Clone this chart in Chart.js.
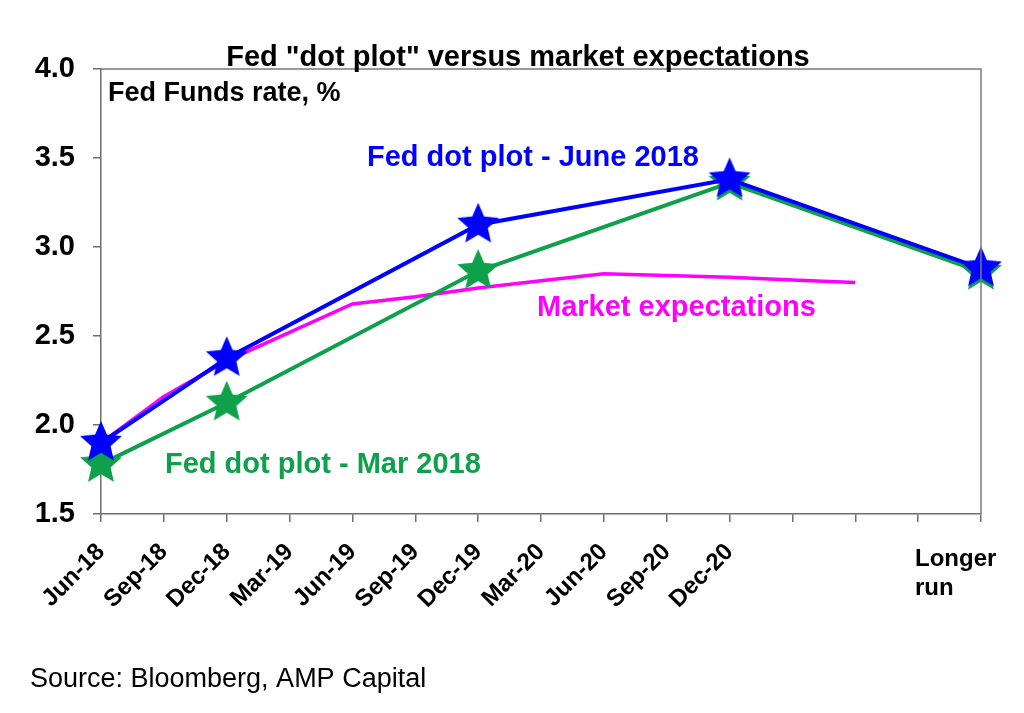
<!DOCTYPE html>
<html>
<head>
  <title>Fed dot plot versus market expectations</title>
  <script src="https://cdn.jsdelivr.net/npm/chart.js"></script>
  <style>
    body { margin: 0; background: #fff; }
    #wrap { width: 1024px; height: 713px; position: relative; }
  </style>
</head>
<body>
  <div id="wrap"><canvas id="fedChart"></canvas></div>

  <script>
    // --- Data ---
    const quarters = ['Jun-18', 'Sep-18', 'Dec-18', 'Mar-19', 'Jun-19', 'Sep-19', 'Dec-19',
                      'Mar-20', 'Jun-20', 'Sep-20', 'Dec-20', '', '', '', 'Longer run'];
    const dotsJune = [1.9, null, 2.375, null, null, null, 3.125, null, null, null, 3.38, null, null, null, 2.88];
    const dotsMar  = [1.78, null, 2.125, null, null, null, 2.865, null, null, null, 3.36, null, null, null, 2.86];
    const market   = [1.9, 2.16, 2.36, 2.52, 2.68, 2.72, 2.77, 2.81, 2.85, 2.84, 2.83, 2.815, 2.8, null, null];
    const yTicks   = [1.5, 2.0, 2.5, 3.0, 3.5, 4.0];

    const BLUE = '#0000ff', GREEN = '#0ea04a', PINK = '#ff00ff';
    const FONT = '"Liberation Sans", Arial, sans-serif';

    // filled five point star used as the marker
    function makeStar(color, r) {
      const c = document.createElement('canvas');
      c.width = c.height = r * 2 + 2;
      const g = c.getContext('2d');
      g.fillStyle = color;
      g.beginPath();
      for (let i = 0; i < 10; i++) {
        const rad = i % 2 === 0 ? r : r * 0.46;
        const a = -Math.PI / 2 + i * Math.PI / 5;
        const px = r + 1 + rad * Math.cos(a), py = r + 1 + rad * Math.sin(a);
        i === 0 ? g.moveTo(px, py) : g.lineTo(px, py);
      }
      g.closePath();
      g.fill();
      return c;
    }

    // --- Texts, frame and the "Longer run" label ---
    const textPlugin = {
      id: 'texts',
      afterDraw(chart) {
        const { ctx, chartArea: a, scales } = chart;
        ctx.save();
        // frame on top and right
        ctx.strokeStyle = '#7a7a7a';
        ctx.lineWidth = 1.5;
        ctx.beginPath();
        ctx.moveTo(a.left, a.top); ctx.lineTo(a.right, a.top); ctx.lineTo(a.right, a.bottom);
        ctx.stroke();

        ctx.textBaseline = 'alphabetic';
        ctx.fillStyle = '#000';
        ctx.textAlign = 'center';
        ctx.font = 'bold 29px ' + FONT;
        ctx.fillText('Fed "dot plot" versus market expectations', 518, 66);

        ctx.textAlign = 'left';
        ctx.font = 'bold 27px ' + FONT;
        ctx.fillText('Fed Funds rate, %', 108, 101);

        ctx.font = 'bold 29px ' + FONT;
        ctx.fillStyle = BLUE;  ctx.fillText('Fed dot plot - June 2018', 367, 166);
        ctx.fillStyle = PINK;  ctx.fillText('Market expectations', 537, 316);
        ctx.fillStyle = GREEN; ctx.fillText('Fed dot plot - Mar 2018', 165, 473);

        // last category label, set flat as in the original
        const xl = scales.x.getPixelForValue(quarters.length - 1) - 66;
        ctx.fillStyle = '#000';
        ctx.font = 'bold 24px ' + FONT;
        ctx.fillText('Longer', xl, 566);
        ctx.fillText('run', xl, 595);

        ctx.font = '27px ' + FONT;
        ctx.fillText('Source: Bloomberg, AMP Capital', 30, 687);
        ctx.restore();
      }
    };

    // --- Chart ---
    const ctx = document.getElementById('fedChart').getContext('2d');
    const fedChart = new Chart(ctx, {
      type: 'line',
      data: {
        labels: quarters,
        datasets: [
          {
            label: 'Fed dot plot - June 2018',
            data: dotsJune,
            borderColor: BLUE,
            borderWidth: 4,
            spanGaps: true,
            pointStyle: makeStar(BLUE, 22),
            pointRadius: 22
          },
          {
            label: 'Fed dot plot - Mar 2018',
            data: dotsMar,
            borderColor: GREEN,
            borderWidth: 4,
            spanGaps: true,
            pointStyle: makeStar(GREEN, 22),
            pointRadius: 22
          },
          {
            label: 'Market expectations',
            data: market,
            borderColor: PINK,
            borderWidth: 3.5,
            pointRadius: 0
          }
        ]
      },
      options: {
        responsive: true,
        maintainAspectRatio: false,
        animation: false,
        layout: { padding: { top: 69, right: 43, left: 0, bottom: 0 } },
        plugins: {
          legend: { display: false },
          title: { display: false },
          tooltip: { enabled: false }
        },
        scales: {
          x: {
            offset: false,
            border: { color: '#6e6e6e', width: 1.5 },
            grid: { drawOnChartArea: false, tickLength: 8, color: '#6e6e6e', lineWidth: 1.5 },
            ticks: {
              autoSkip: false,
              minRotation: 45,
              maxRotation: 45,
              padding: 16,
              color: '#000',
              font: { family: FONT, size: 24, weight: 'bold' },
              callback: (v, i) => i === quarters.length - 1 ? '' : quarters[i]
            },
            afterFit: s => { s.height = 199; }
          },
          y: {
            min: yTicks[0],
            max: yTicks[yTicks.length - 1],
            border: { color: '#6e6e6e', width: 1.5 },
            grid: { drawOnChartArea: false, tickLength: 8, color: '#6e6e6e', lineWidth: 1.5 },
            afterBuildTicks: s => { s.ticks = yTicks.map(v => ({ value: v })); },
            ticks: {
              padding: 18,
              color: '#000',
              font: { family: FONT, size: 29, weight: 'bold' },
              callback: v => v.toFixed(1)
            },
            afterFit: s => { s.width = 101; }
          }
        }
      },
      plugins: [textPlugin]
    });
  </script>
</body>
</html>
